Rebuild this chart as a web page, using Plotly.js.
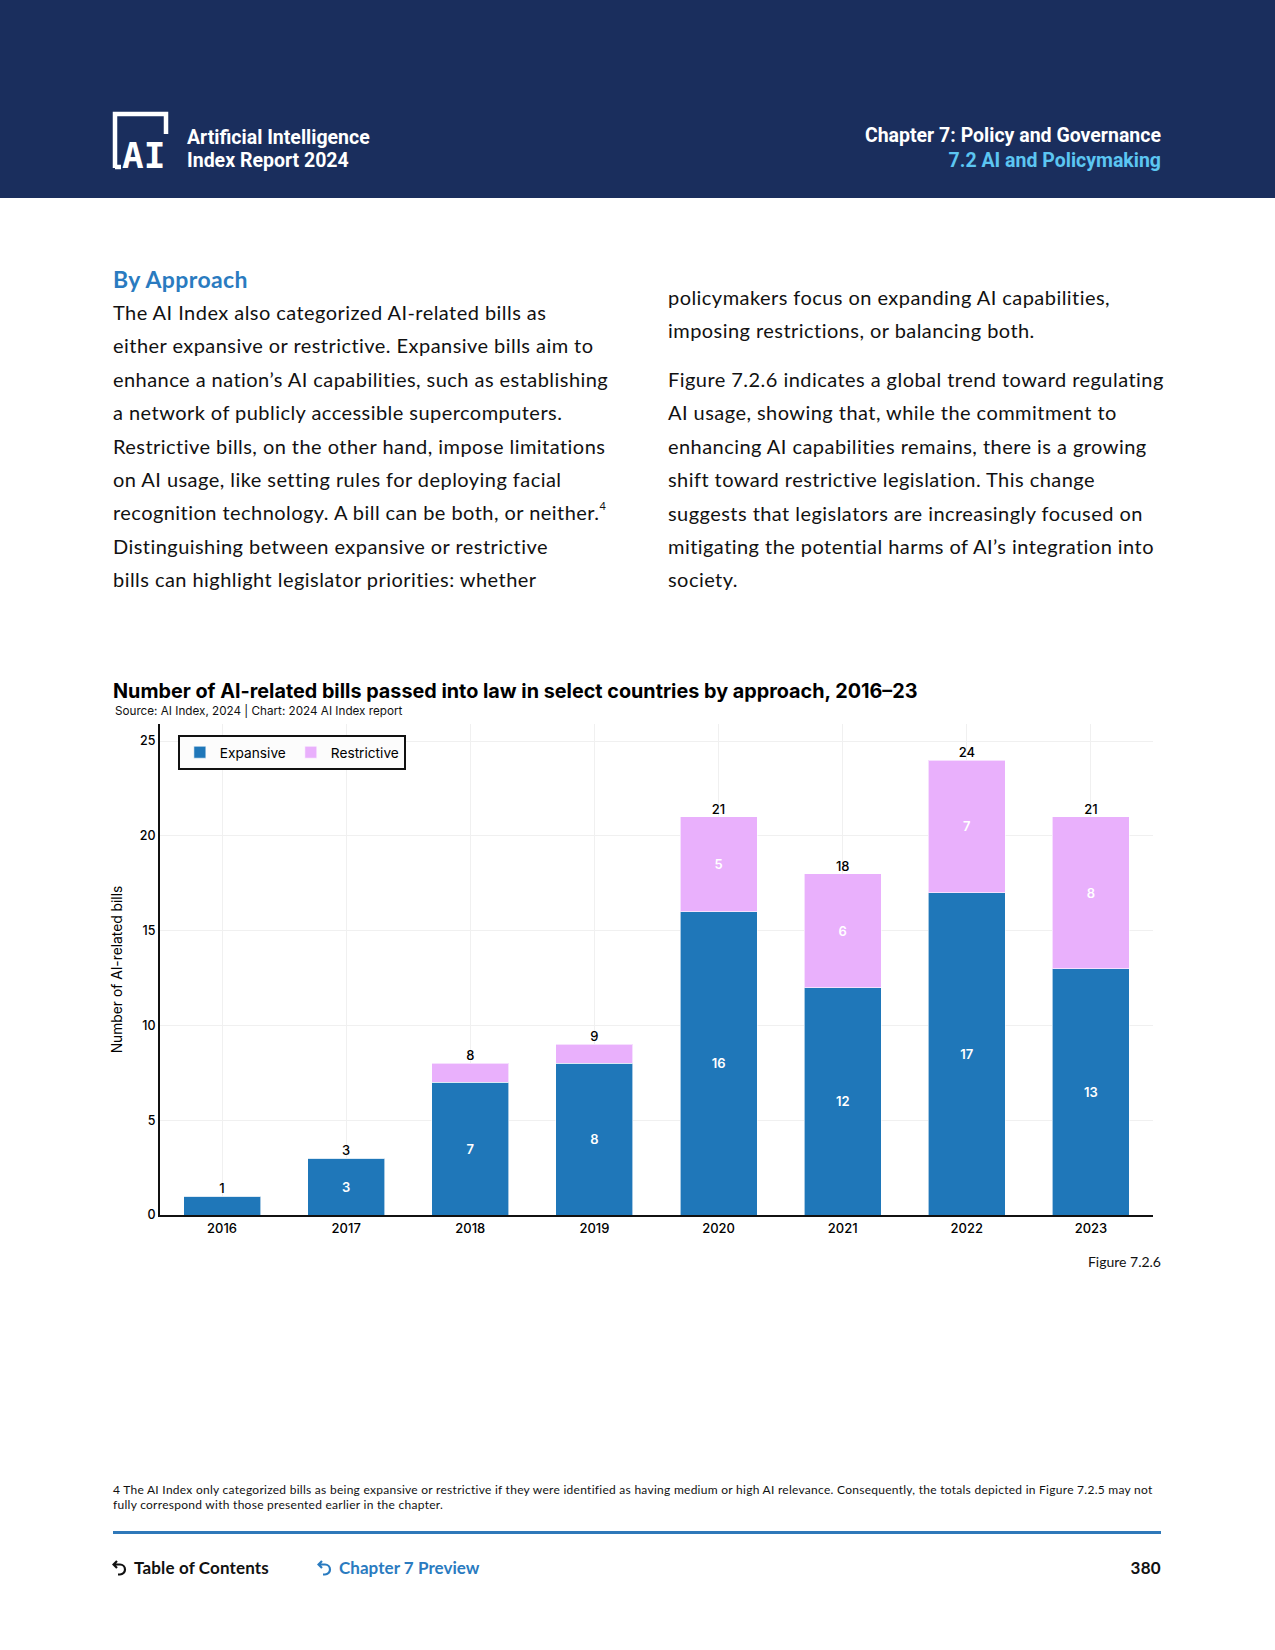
<!DOCTYPE html>
<html>
<head>
<meta charset="utf-8">
<script src="https://cdn.plot.ly/plotly-3.0.1.min.js"></script>
<style>
  html, body { margin:0; padding:0; background:#ffffff; }
  body { width:1275px; height:1650px; position:relative; overflow:hidden; font-family:"Lato","Open Sans",sans-serif; color:#111; }
  .abs { position:absolute; white-space:nowrap; }
  #header { position:absolute; left:0; top:0; width:1275px; height:198px; background:#1a2e5d; }
  .hdr { color:#fff; font-family:"Roboto","Lato",sans-serif; font-weight:700; font-size:19.5px; line-height:23px; }
  .para { font-size:20px; line-height:33.4px; color:#111; letter-spacing:0.45px; }
  .para div { white-space:nowrap; }
  sup.fn { font-size:11px; vertical-align:top; line-height:0; position:relative; top:10px; }
  #chart { position:absolute; left:0; top:620px; width:1275px; height:680px; }
</style>
</head>
<body>
<div id="header">
  <svg class="abs" style="left:111px;top:110px" width="72" height="72" viewBox="0 0 72 72">
    <path d="M4,58 V4 H55 V24" fill="none" stroke="#fff" stroke-width="4.5"/>
    <path d="M4,57 H10" fill="none" stroke="#fff" stroke-width="4.5"/>
    <text x="11" y="58" fill="#fff" font-family="DejaVu Sans Mono" font-weight="bold" font-size="36">AI</text>
  </svg>
  <div class="abs hdr" style="left:187px;top:126px;">Artificial Intelligence</div>
  <div class="abs hdr" style="left:187px;top:149px;">Index Report 2024</div>
  <div class="abs hdr" style="right:114px;top:124px;text-align:right;">Chapter 7: Policy and Governance</div>
  <div class="abs hdr" style="right:114px;top:149px;text-align:right;color:#5cc6f2;">7.2 AI and Policymaking</div>
</div>

<div class="abs" style="left:113px;top:265px;font-size:23px;font-weight:700;color:#2a7bc0;letter-spacing:0.4px;">By Approach</div>

<div class="abs para" style="left:113px;top:296px;">
  <div>The AI Index also categorized AI-related bills as</div>
  <div>either expansive or restrictive. Expansive bills aim to</div>
  <div>enhance a nation’s AI capabilities, such as establishing</div>
  <div>a network of publicly accessible supercomputers.</div>
  <div>Restrictive bills, on the other hand, impose limitations</div>
  <div>on AI usage, like setting rules for deploying facial</div>
  <div>recognition technology. A bill can be both, or neither.<sup class="fn">4</sup></div>
  <div>Distinguishing between expansive or restrictive</div>
  <div>bills can highlight legislator priorities: whether</div>
</div>

<div class="abs para" style="left:668px;top:281px;">
  <div>policymakers focus on expanding AI capabilities,</div>
  <div>imposing restrictions, or balancing both.</div>
</div>
<div class="abs para" style="left:668px;top:363px;">
  <div>Figure 7.2.6 indicates a global trend toward regulating</div>
  <div>AI usage, showing that, while the commitment to</div>
  <div>enhancing AI capabilities remains, there is a growing</div>
  <div>shift toward restrictive legislation. This change</div>
  <div>suggests that legislators are increasingly focused on</div>
  <div>mitigating the potential harms of AI’s integration into</div>
  <div>society.</div>
</div>

<div id="chart"></div>

<div class="abs" style="right:114px;top:1253px;font-size:14px;color:#111;">Figure 7.2.6</div>

<div class="abs" style="left:113px;top:1482px;font-size:12px;line-height:15px;color:#111;letter-spacing:0.27px;">
  <div>4 The AI Index only categorized bills as being expansive or restrictive if they were identified as having medium or high AI relevance. Consequently, the totals depicted in Figure 7.2.5 may not</div>
  <div>fully correspond with those presented earlier in the chapter.</div>
</div>

<div class="abs" style="left:113px;top:1531px;width:1048px;height:3px;background:#2f78b9;"></div>

<svg class="abs" style="left:112px;top:1559px" width="16" height="18" viewBox="0 0 16 18">
  <path d="M5,2 L1.5,5.5 L5,9 M1.5,5.5 H8 A5,5 0 0 1 8,15.5 H6" fill="none" stroke="#111" stroke-width="2.2"/>
</svg>
<div class="abs" style="left:134px;top:1557px;font-size:17px;font-weight:700;color:#111;letter-spacing:0.15px;">Table of Contents</div>
<svg class="abs" style="left:317px;top:1559px" width="16" height="18" viewBox="0 0 16 18">
  <path d="M5,2 L1.5,5.5 L5,9 M1.5,5.5 H8 A5,5 0 0 1 8,15.5 H6" fill="none" stroke="#2a7bc0" stroke-width="2.2"/>
</svg>
<div class="abs" style="left:339px;top:1557px;font-size:17px;font-weight:700;color:#2a7bc0;letter-spacing:0.05px;">Chapter 7 Preview</div>
<div class="abs" style="right:114px;top:1557px;font-size:17px;font-weight:700;color:#111;letter-spacing:0.3px;">380</div>

<script>
// ---- Data ----
const years = ['2016', '2017', '2018', '2019', '2020', '2021', '2022', '2023'];
const expansive = [1, 3, 7, 8, 16, 12, 17, 13];
const restrictive = [0, 0, 1, 1, 5, 6, 7, 8];
const totals = [1, 3, 8, 9, 21, 18, 24, 21];
const yTicks = [0, 5, 10, 15, 20, 25];

const BLUE = '#1f77b9';
const PINK = '#e9b0fc';
const FONT = 'Inter, Lato, sans-serif';

// segment labels are hidden when the segment is too short to hold them
const expText = expansive.map(v => v >= 3 ? String(v) : '');
const resText = restrictive.map(v => v >= 2 ? String(v) : '');

const traces = [
  {
    type: 'bar', name: 'Expansive', x: years, y: expansive,
    marker: { color: BLUE, line: { color: 'rgba(255,255,255,0.6)', width: 1 } },
    text: expText, textposition: 'inside', insidetextanchor: 'middle', textangle: 0,
    constraintext: 'none',
    textfont: { color: '#ffffff', size: 13, family: FONT, weight: 600 },
    hoverinfo: 'skip'
  },
  {
    type: 'bar', name: 'Restrictive', x: years, y: restrictive,
    marker: { color: PINK, line: { color: 'rgba(255,255,255,0.6)', width: 1 } },
    text: resText, textposition: 'inside', insidetextanchor: 'middle', textangle: 0,
    constraintext: 'none',
    textfont: { color: '#ffffff', size: 13, family: FONT, weight: 600 },
    hoverinfo: 'skip'
  },
  {
    type: 'scatter', mode: 'text', name: 'Total', x: years, y: totals,
    text: totals.map(String), textposition: 'top center', showlegend: false,
    textfont: { color: '#000000', size: 13, family: FONT, weight: 500 },
    hoverinfo: 'skip', cliponaxis: false
  }
];

const layout = {
  width: 1275, height: 680,
  margin: { l: 160, r: 122, t: 104, b: 85 },
  paper_bgcolor: 'rgba(0,0,0,0)', plot_bgcolor: '#ffffff',
  font: { family: FONT, color: '#111' },
  barmode: 'stack', bargap: 0.38,
  showlegend: true,
  title: {
    text: '<b>Number of AI-related bills passed into law in select countries by approach, 2016–23</b>',
    xref: 'container', yref: 'container', x: 113 / 1275, xanchor: 'left',
    y: 1 - 71 / 680, yanchor: 'middle',
    font: { family: FONT, size: 19.8, color: '#000' }
  },
  legend: {
    orientation: 'h', x: 0.018, y: 0.978, xanchor: 'left', yanchor: 'top',
    bordercolor: '#111', borderwidth: 2, bgcolor: '#fcfcfc',
    font: { family: FONT, size: 13.7, color: '#000' },
    traceorder: 'normal'
  },
  xaxis: {
    type: 'category', range: [-0.5, years.length - 0.5],
    showline: true, linecolor: '#111', linewidth: 2,
    showgrid: true, gridcolor: '#f0f0f0', ticks: '', fixedrange: true,
    tickfont: { family: FONT, size: 13, color: '#000', weight: 500 }
  },
  yaxis: {
    range: [0, 25.9], tickvals: yTicks, showline: true, linecolor: '#111', linewidth: 2,
    showgrid: true, gridcolor: '#f0f0f0', zeroline: false, ticks: '', fixedrange: true,
    tickfont: { family: FONT, size: 12.5, color: '#000', weight: 500 },
    title: { text: 'Number of AI-related bills', standoff: 14, font: { family: FONT, size: 13.8, color: '#000' } }
  },
  annotations: [
    {
      text: 'Source: AI Index, 2024 | Chart: 2024 AI Index report',
      xref: 'paper', yref: 'paper', x: (113 - 160) / 993, y: (1215 - 711) / 491,
      xanchor: 'left', yanchor: 'middle', showarrow: false,
      font: { family: FONT, size: 11.7, color: '#111' }
    }
  ]
};

Plotly.newPlot('chart', traces, layout, { displayModeBar: false, staticPlot: true });
</script>
</body>
</html>
